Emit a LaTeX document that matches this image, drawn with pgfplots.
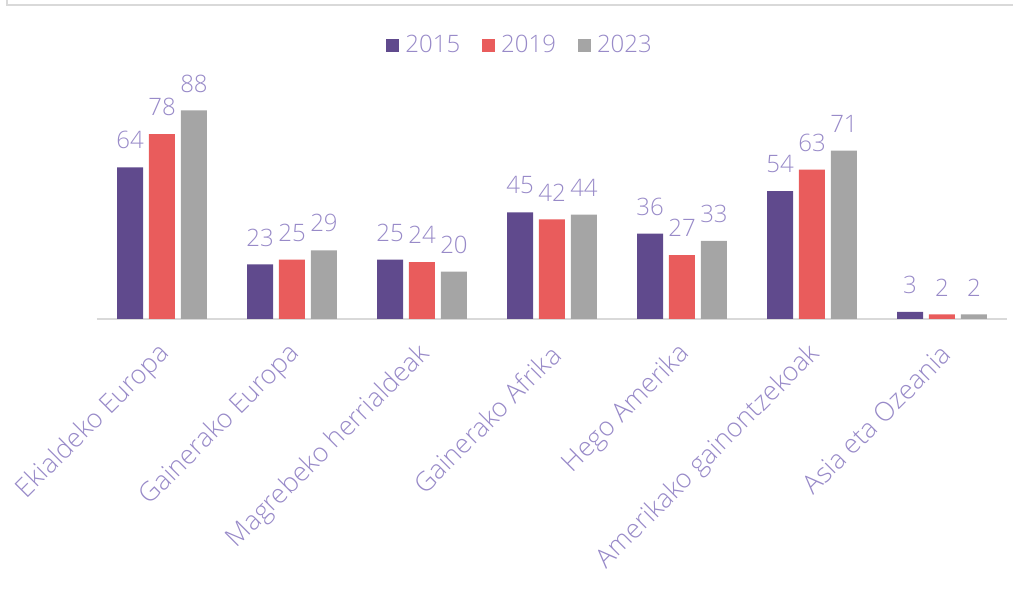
\documentclass[border=0pt]{standalone}
\usepackage{fontspec}
\setmainfont{Open Sans}[UprightFont={* Light}]
\usepackage{pgfplots}
\pgfplotsset{compat=1.18}
\definecolor{cA}{RGB}{96,74,141}
\definecolor{cB}{RGB}{233,92,92}
\definecolor{cC}{RGB}{165,165,165}
\definecolor{txt}{RGB}{152,138,200}
\definecolor{grid}{RGB}{217,217,217}
\begin{document}
\begin{tikzpicture}[x=1pt,y=1pt]
\useasboundingbox (0,0) rectangle (1013,608);
\draw[grid, line width=1.5pt] (7,608) -- (7,603) -- (1013,603);
\begin{axis}[
  at={(97pt,289pt)}, anchor=south west,
  scale only axis, width=910pt, height=237pt,
  ymin=0, ymax=100, xmin=-0.5, xmax=6.5,
  axis y line=none, axis x line*=bottom,
  x axis line style={grid, line width=1.6pt, -},
  major tick length=0pt,
  xtick={0,...,6},
  xticklabels={Ekialdeko Europa, Gainerako Europa, Magrebeko herrialdeak, Gainerako Afrika, Hego Amerika, Amerikako gainontzekoak, Asia eta Ozeania},
  xticklabel style={font=\fontsize{26.5}{30}\selectfont, text=txt, inner sep=0pt, xshift=4pt, yshift=-31pt, rotate=45, anchor=east},
  ybar, bar width=0.2,
  /pgf/number format/assume math mode=true,
  nodes near coords,
  every node near coord/.append style={font=\fontsize{24}{28}\selectfont, text=txt, anchor=south, inner sep=0pt, yshift=18pt},
  clip=false,
  legend columns=3,
  legend style={at={(0.465,1.156)}, anchor=center, draw=none, fill=none,
    font=\fontsize{24}{28}\selectfont, text=txt,
    /tikz/every even column/.append style={column sep=20pt},
    /tikz/every odd column/.append style={column sep=4pt}},
  legend image code/.code={\fill[#1] (0pt,-6.5pt) rectangle (13pt,6.5pt);},
]
\addplot[fill=cA, draw=none, bar shift=-0.246] coordinates {(0,64) (1,23) (2,25) (3,45) (4,36) (5,54) (6,3)};
\addplot[fill=cB, draw=none, bar shift=0] coordinates {(0,78) (1,25) (2,24) (3,42) (4,27) (5,63) (6,2)};
\addplot[fill=cC, draw=none, bar shift=0.246] coordinates {(0,88) (1,29) (2,20) (3,44) (4,33) (5,71) (6,2)};
\legend{2015,2019,2023}
\end{axis}
\end{tikzpicture}
\end{document}
